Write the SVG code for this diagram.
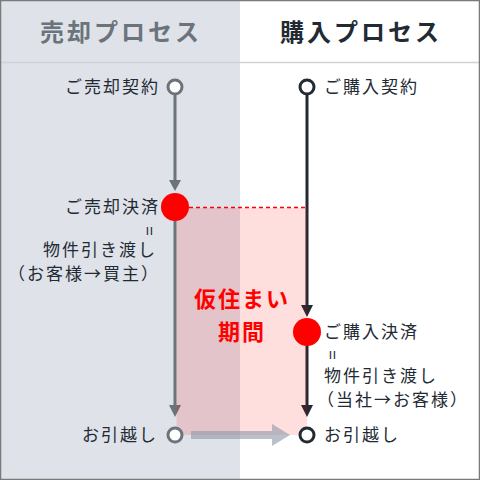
<svg xmlns="http://www.w3.org/2000/svg" width="480" height="480" viewBox="0 0 480 480">
<defs>
<style>
.t{font-family:"Noto Sans CJK JP","Noto Sans",sans-serif;font-size:17px;letter-spacing:2px;fill:#222a33}
.h{font-family:"Noto Sans CJK JP","Noto Sans",sans-serif;font-size:24px;font-weight:bold;letter-spacing:3px}
.r{font-family:"Noto Sans CJK JP","Noto Sans",sans-serif;font-size:22px;font-weight:bold;letter-spacing:2px;fill:#ff0000}
</style>
</defs>
<rect x="0" y="0" width="240" height="480" fill="#dfe2e8"/>
<rect x="240" y="0" width="240" height="480" fill="#ffffff"/>
<line x1="0" y1="62.5" x2="480" y2="62.5" stroke="#cfd3d8" stroke-width="1.5"/>
<text class="h" x="121" y="41" text-anchor="middle" fill="#6b737b">売却プロセス</text>
<text class="h" x="361" y="41" text-anchor="middle" fill="#222a33">購入プロセス</text>

<g id="connectors">
<line x1="175" y1="94" x2="175" y2="182" stroke="#6b737b" stroke-width="3"/>
<path d="M169,180 L181,180 L175,191 z" fill="#6b737b"/>
<line x1="175" y1="220" x2="175" y2="407" stroke="#6b737b" stroke-width="3"/>
<path d="M169,405 L181,405 L175,417 z" fill="#6b737b"/>
<line x1="307" y1="94" x2="307" y2="307" stroke="#222a33" stroke-width="3"/>
<path d="M301,305 L313,305 L307,317 z" fill="#222a33"/>
<line x1="307" y1="345" x2="307" y2="407" stroke="#222a33" stroke-width="3"/>
<path d="M301,405 L313,405 L307,417 z" fill="#222a33"/>
<line x1="189" y1="207.5" x2="306" y2="207.5" stroke="#ff0000" stroke-width="1.5" stroke-dasharray="4,3"/>
</g>

<g id="period">
<rect x="176.5" y="208" width="130.5" height="227" fill="#ff0000" fill-opacity="0.13"/>
<text class="r" x="242" y="307" text-anchor="middle">仮住まい</text>
<text class="r" x="242" y="340" text-anchor="middle">期間</text>
</g>

<g id="move-arrow" opacity="0.6">
<rect x="191" y="431" width="82" height="8" fill="#8e98a8"/>
<path d="M272,424 L290,435 L272,446 z" fill="#8e98a8"/>
</g>

<g id="sell-contract">
<circle cx="175" cy="87" r="7" fill="#ffffff" stroke="#6b737b" stroke-width="3"/>
<text class="t" x="160" y="93" text-anchor="end">ご売却契約</text>
</g>
<g id="sell-settle">
<circle cx="175" cy="207" r="14" fill="#ff0000"/>
<text class="t" x="160" y="213" text-anchor="end">ご売却決済</text>
<text class="t" x="148" y="231" text-anchor="middle" transform="rotate(90 148 231)" dy="5" style="letter-spacing:0">=</text>
<text class="t" x="157" y="256" text-anchor="end">物件引き渡し</text>
<text class="t" x="160" y="280" text-anchor="end">（お客様→買主）</text>
</g>
<g id="sell-move">
<circle cx="175" cy="435" r="7" fill="#ffffff" stroke="#6b737b" stroke-width="3"/>
<text class="t" x="158" y="441" text-anchor="end">お引越し</text>
</g>

<g id="buy-contract">
<circle cx="307" cy="87" r="7" fill="#ffffff" stroke="#222a33" stroke-width="3"/>
<text class="t" x="324" y="93">ご購入契約</text>
</g>
<g id="buy-settle">
<circle cx="307" cy="332" r="14" fill="#ff0000"/>
<text class="t" x="324" y="338">ご購入決済</text>
<text class="t" x="331" y="355" text-anchor="middle" transform="rotate(90 331 355)" dy="5" style="letter-spacing:0">=</text>
<text class="t" x="324" y="382">物件引き渡し</text>
<text class="t" x="317" y="406">（当社→お客様）</text>
</g>
<g id="buy-move">
<circle cx="307" cy="435" r="7" fill="#ffffff" stroke="#222a33" stroke-width="3"/>
<text class="t" x="324" y="441">お引越し</text>
</g>

<rect x="0.5" y="0.5" width="479" height="479" fill="none" stroke="#7a7a7a" stroke-width="1.5"/>
</svg>
